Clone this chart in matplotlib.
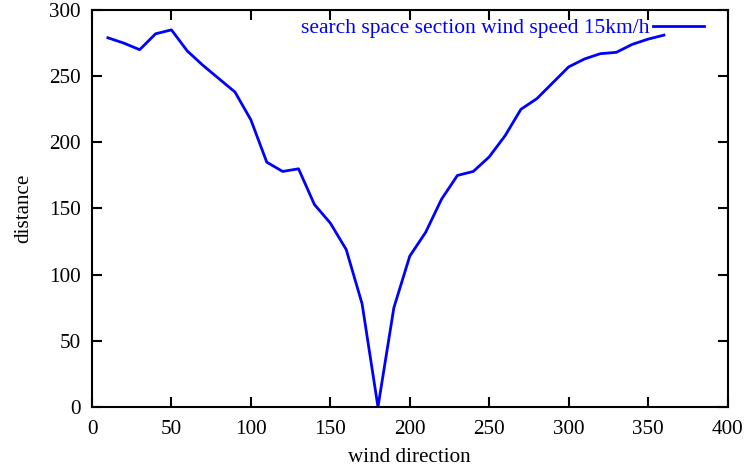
import numpy as np
import matplotlib.pyplot as plt

plt.rcParams['font.family'] = ['Liberation Serif', 'DejaVu Serif']

# wind direction (deg) vs search distance
direction = [10, 20, 30, 40, 50, 60, 70, 80, 90, 100, 110, 120, 130, 140, 150, 160,
             170, 180, 190, 200, 210, 220, 230, 240, 250, 260, 270, 280, 290, 300,
             310, 320, 330, 340, 350, 360]
distance = [279, 275, 270, 282, 285, 269, 258, 248, 238, 217, 185, 178, 180, 153, 139, 119,
            78, 0, 75, 114, 132, 157, 175, 178, 189, 205, 225, 233, 245, 257,
            263, 267, 268, 274, 278, 281]
label = 'search space section wind speed 15km/h'

fs = 15.2

fig = plt.figure(figsize=(7.48, 4.68), dpi=100)
ax = fig.add_axes([92 / 748, 61 / 468, (727.5 - 92) / 748, (407 - 10) / 468])

ax.plot(direction, distance, color='#0000ff', lw=2, label=label)

ax.set_xlim(0, 400)
ax.set_ylim(0, 300)
ax.set_xticks(np.arange(0, 401, 50))
ax.set_yticks(np.arange(0, 301, 50))
ax.tick_params(direction='in', top=True, right=True, length=7, width=1.5,
               labelsize=fs)
ax.tick_params(axis='x', pad=9.5)
ax.tick_params(axis='y', pad=8)
for s in ax.spines.values():
    s.set_linewidth(1.5)

ax.set_xlabel('wind direction', fontsize=fs, labelpad=6)
ax.set_ylabel('distance', fontsize=fs, labelpad=11.5)

leg = ax.legend(loc='upper right', frameon=False, markerfirst=False, fontsize=15.5,
                handlelength=2.37, handletextpad=0.15, borderaxespad=0, borderpad=0,
                bbox_to_anchor=(0.963, 0.979))
for t in leg.get_texts():
    t.set_color('#0000ff')

fig.savefig('out.png', dpi=100)
